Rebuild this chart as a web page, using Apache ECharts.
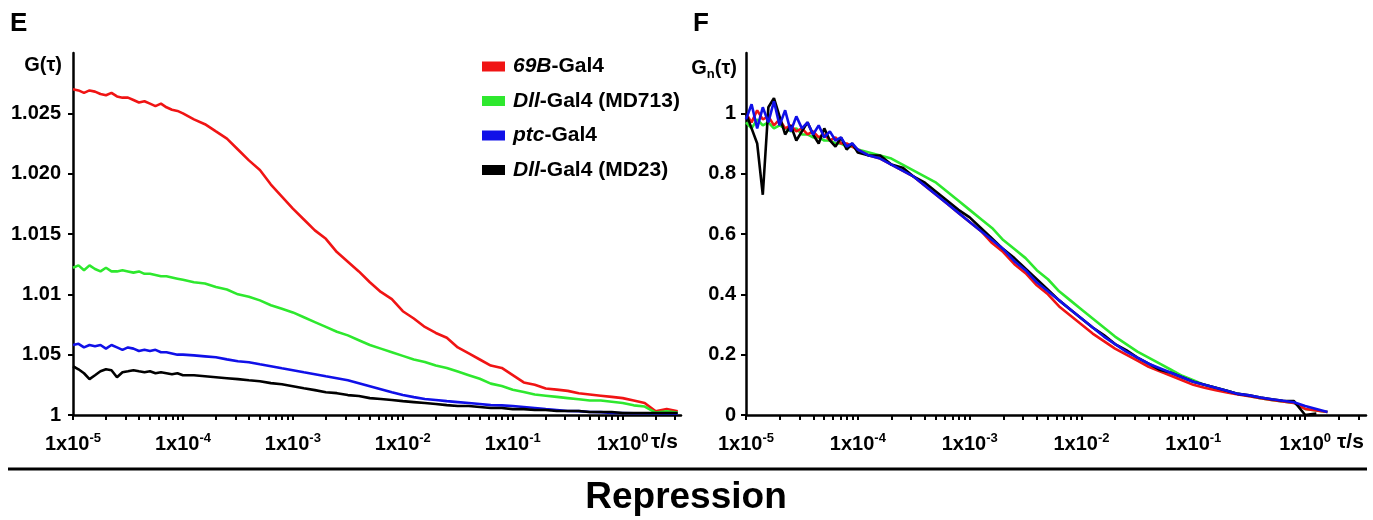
<!DOCTYPE html>
<html><head><meta charset="utf-8">
<script src="https://cdn.jsdelivr.net/npm/echarts@6/dist/echarts.min.js"></script>
<style>html,body{margin:0;padding:0;background:#fff}#c{width:1373px;height:520px}</style>
</head><body><div id="c"></div>
<script>
// lag time tau (s)
const TAU = [1e-5, 1.122e-5, 1.259e-5, 1.413e-5, 1.585e-5, 1.778e-5, 1.995e-5, 2.239e-5, 2.512e-5, 2.818e-5,
  3.162e-5, 3.548e-5, 3.981e-5, 4.467e-5, 5.012e-5, 5.623e-5, 6.310e-5, 7.079e-5, 7.943e-5, 8.913e-5, 1e-4,
  1.259e-4, 1.585e-4, 1.995e-4, 2.512e-4, 3.162e-4, 3.981e-4, 5.012e-4, 6.310e-4, 7.943e-4, 1e-3,
  1.259e-3, 1.585e-3, 1.995e-3, 2.512e-3, 3.162e-3, 3.981e-3, 5.012e-3, 6.310e-3, 7.943e-3, 1e-2,
  1.259e-2, 1.585e-2, 1.995e-2, 2.512e-2, 3.162e-2, 3.981e-2, 5.012e-2, 6.310e-2, 7.943e-2, 1e-1,
  1.259e-1, 1.585e-1, 1.995e-1, 2.512e-1, 3.162e-1, 3.981e-1, 5.012e-1, 6.310e-1, 7.943e-1, 1,
  1.259, 1.585, 1.995, 2.512, 3.162];

const SERIES_NAMES = ['69B-Gal4', 'Dll-Gal4 (MD713)', 'ptc-Gal4', 'Dll-Gal4 (MD23)'];
const LEGEND_RICH = ['{i|69B}{n|-Gal4}', '{i|Dll}{n|-Gal4 (MD713)}', '{i|ptc}{n|-Gal4}', '{i|Dll}{n|-Gal4 (MD23)}'];
const COLORS = ['#f01414', '#2ee82e', '#1010e8', '#000000'];

// Panel E: G(tau)
const E_RED = [1.0270, 1.0269, 1.0267, 1.0269, 1.0268, 1.0266, 1.0265, 1.0267, 1.0264, 1.0263, 1.0263, 1.0261, 1.0259, 1.0260, 1.0258, 1.0256, 1.0258, 1.0255, 1.0253, 1.0252, 1.0250,
  1.0245, 1.0241, 1.0235, 1.0229, 1.0220, 1.0211, 1.0203, 1.0191, 1.0181, 1.0171,
  1.0162, 1.0153, 1.0146, 1.0135, 1.0127, 1.0119, 1.0110, 1.0102, 1.0096, 1.0086,
  1.0080, 1.0073, 1.0068, 1.0064, 1.0056, 1.0051, 1.0046, 1.0041, 1.0039, 1.0033,
  1.0027, 1.0025, 1.0022, 1.0021, 1.0020, 1.0018, 1.0017, 1.0016, 1.0015, 1.0014,
  1.0012, 1.0010, 1.0003, 1.0005, 1.0003];
const E_GREEN = [1.0122, 1.0124, 1.0120, 1.0124, 1.0121, 1.0119, 1.0122, 1.0119, 1.0119, 1.0120, 1.0119, 1.0118, 1.0119, 1.0117, 1.0117, 1.0116, 1.0115, 1.0115, 1.0114, 1.0113, 1.0112,
  1.0110, 1.0109, 1.0106, 1.0104, 1.0100, 1.0098, 1.0095, 1.0091, 1.0088, 1.0085,
  1.0081, 1.0077, 1.0073, 1.0069, 1.0066, 1.0062, 1.0058, 1.0055, 1.0052, 1.0049,
  1.0046, 1.0044, 1.0041, 1.0039, 1.0036, 1.0033, 1.0030, 1.0026, 1.0024, 1.0021,
  1.0019, 1.0017, 1.0016, 1.0015, 1.0014, 1.0013, 1.0012, 1.0012, 1.0011, 1.0010,
  1.0008, 1.0007, 1.0002, 1.0003, 1.0002];
const E_BLUE = [1.0058, 1.0059, 1.0056, 1.0058, 1.0057, 1.0058, 1.0055, 1.0058, 1.0056, 1.0054, 1.0056, 1.0055, 1.0053, 1.0054, 1.0053, 1.0054, 1.0052, 1.0052, 1.0051, 1.0050, 1.0050,
  1.00494, 1.00486, 1.00478, 1.00461, 1.00445, 1.00437, 1.00420, 1.00404, 1.00387, 1.00371,
  1.00354, 1.00338, 1.00321, 1.00305, 1.00288, 1.00264, 1.00239, 1.00214, 1.00189, 1.00165,
  1.00148, 1.00132, 1.00124, 1.00115, 1.00107, 1.00099, 1.00091, 1.00082, 1.00080, 1.00074,
  1.00066, 1.00058, 1.00049, 1.00041, 1.00033, 1.00032, 1.00025, 1.00024, 1.00016, 1.00016,
  1.00015, 1.00014, 1.00013, 1.00012, 1.00010];
const E_BLACK = [1.00404, 1.00379, 1.00346, 1.00297, 1.00329, 1.00362, 1.00379, 1.00371, 1.00313, 1.00354, 1.00362, 1.00371, 1.00362, 1.00354, 1.00362, 1.00346, 1.00354, 1.00346, 1.00338, 1.00346, 1.00329,
  1.00329, 1.00321, 1.00313, 1.00305, 1.00297, 1.00288, 1.00280, 1.00264, 1.00255, 1.00239,
  1.00222, 1.00206, 1.00189, 1.00181, 1.00165, 1.00157, 1.00140, 1.00132, 1.00124, 1.00115,
  1.00107, 1.00099, 1.00091, 1.00082, 1.00074, 1.00074, 1.00066, 1.00058, 1.00058, 1.00049,
  1.00049, 1.00041, 1.00041, 1.00033, 1.00033, 1.00033, 1.00025, 1.00025, 1.00025, 1.00016,
  1.00016, 1.00016, 1.00016, 1.00016, 1.00016];

// Panel F: normalised Gn(tau)
const F_RED = [1.00, 0.97, 1.01, 0.98, 0.99, 0.96, 0.98, 0.95, 0.96, 0.94, 0.95, 0.93, 0.94, 0.92, 0.93, 0.91, 0.92, 0.90, 0.90, 0.89, 0.88,
  0.86, 0.85, 0.83, 0.81, 0.79, 0.76, 0.73, 0.70, 0.67, 0.64,
  0.61, 0.57, 0.54, 0.50, 0.47, 0.43, 0.40, 0.36, 0.33, 0.30,
  0.27, 0.245, 0.22, 0.20, 0.18, 0.16, 0.145, 0.13, 0.115, 0.10,
  0.09, 0.082, 0.075, 0.068, 0.062, 0.056, 0.05, 0.045, 0.04, 0.02,
  0.015, 0.01, null, null, null];
const F_GREEN = [0.97, 0.95, 0.98, 0.96, 0.97, 0.95, 0.96, 0.95, 0.94, 0.95, 0.93, 0.93, 0.92, 0.92, 0.91, 0.91, 0.90, 0.90, 0.89, 0.89, 0.88,
  0.87, 0.86, 0.85, 0.83, 0.81, 0.79, 0.77, 0.74, 0.71, 0.68,
  0.65, 0.62, 0.58, 0.55, 0.52, 0.48, 0.45, 0.41, 0.38, 0.35,
  0.32, 0.29, 0.26, 0.235, 0.21, 0.19, 0.17, 0.15, 0.13, 0.115,
  0.10, 0.09, 0.08, 0.07, 0.063, 0.056, 0.05, 0.045, 0.04, 0.02,
  0.015, 0.01, null, null, null];
const F_BLUE = [0.98, 1.03, 0.95, 1.02, 0.97, 1.04, 0.96, 1.01, 0.94, 0.99, 0.95, 0.97, 0.93, 0.96, 0.92, 0.94, 0.91, 0.92, 0.89, 0.90, 0.88,
  0.86, 0.85, 0.83, 0.81, 0.79, 0.76, 0.73, 0.70, 0.67, 0.64,
  0.61, 0.58, 0.55, 0.51, 0.48, 0.44, 0.41, 0.38, 0.35, 0.32,
  0.29, 0.26, 0.235, 0.21, 0.19, 0.17, 0.155, 0.14, 0.125, 0.11,
  0.10, 0.09, 0.08, 0.07, 0.065, 0.058, 0.052, 0.047, 0.042, 0.03,
  0.02, 0.01, null, null, null];
const F_BLACK = [1.00, 0.95, 0.90, 0.73, 1.02, 1.05, 0.99, 0.93, 0.96, 0.91, 0.94, 0.97, 0.93, 0.90, 0.95, 0.91, 0.89, 0.92, 0.88, 0.90, 0.87,
  0.86, 0.86, 0.83, 0.82, 0.79, 0.77, 0.74, 0.71, 0.68, 0.655,
  0.62, 0.585, 0.55, 0.52, 0.485, 0.45, 0.415, 0.38, 0.35, 0.32,
  0.29, 0.265, 0.235, 0.215, 0.19, 0.17, 0.15, 0.14, 0.125, 0.11,
  0.10, 0.09, 0.08, 0.07, 0.065, 0.058, 0.052, 0.047, 0.046, 0.0,
  0.005, null, null, null, null];

// Axis ticks & labels
const X_LABEL_VALUES = [1e-5, 1e-4, 1e-3, 1e-2, 1e-1, 1];
const E_Y_TICKS = [1, 1.005, 1.01, 1.015, 1.02, 1.025];
const E_Y_LABELS = ['1', '1.05', '1.01', '1.015', '1.020', '1.025'];
const F_Y_TICKS = [0, 0.2, 0.4, 0.6, 0.8, 1];
const F_Y_LABELS = ['0', '0.2', '0.4', '0.6', '0.8', '1'];
const E_X_MAX = 3.39, F_X_MAX = 3.5;

const FONT = 'Liberation Sans, Arial, Helvetica, sans-serif';

function logTickValues(maxV) {
  const out = [];
  for (let e = -5; e <= 0; e++) {
    for (let m = 1; m <= 9; m++) {
      const v = m * Math.pow(10, e);
      if (v <= maxV) out.push(v);
    }
  }
  return out;
}

function xAxis(gridIndex, maxV) {
  return {
    type: 'log', logBase: 10, gridIndex, min: 1e-5, max: maxV,
    axisLine: { show: true, onZero: false, lineStyle: { color: '#000', width: 2.5 } },
    axisTick: { show: true, length: 5, customValues: logTickValues(maxV), lineStyle: { color: '#000', width: 2 } },
    minorTick: { show: false },
    splitLine: { show: false },
    axisLabel: {
      customValues: X_LABEL_VALUES, margin: 17, color: '#000',
      formatter: v => '{b|1x10}{s|' + Math.round(Math.log10(v)) + '}',
      rich: {
        b: { fontFamily: FONT, fontWeight: 'bold', fontSize: 20, color: '#000', lineHeight: 24 },
        s: { fontFamily: FONT, fontWeight: 'bold', fontSize: 13, color: '#000', verticalAlign: 'top', lineHeight: 24 }
      }
    }
  };
}

function yAxis(gridIndex, min, max, ticks, labels, margin) {
  return {
    type: 'value', gridIndex, min, max,
    axisLine: { show: true, onZero: false, lineStyle: { color: '#000', width: 2.5 } },
    axisTick: { show: true, length: 5, customValues: ticks, lineStyle: { color: '#000', width: 2 } },
    splitLine: { show: false },
    axisLabel: {
      customValues: ticks, margin, color: '#000', fontFamily: FONT, fontWeight: 'bold', fontSize: 20,
      formatter: v => {
        let best = 0;
        ticks.forEach((t, i) => { if (Math.abs(t - v) < Math.abs(ticks[best] - v)) best = i; });
        return labels[best];
      }
    }
  };
}

function makeSeries(arr, idx, panel) {
  return {
    name: SERIES_NAMES[idx], type: 'line', xAxisIndex: panel, yAxisIndex: panel,
    data: TAU.map((t, i) => [t, arr[i]]),
    showSymbol: false, symbol: 'none', connectNulls: false,
    lineStyle: { color: COLORS[idx], width: 2.6 }, itemStyle: { color: COLORS[idx] },
    emphasis: { disabled: true }, silent: true
  };
}

const chart = echarts.init(document.getElementById('c'), null, { renderer: 'canvas' });
chart.setOption({
  animation: false,
  backgroundColor: '#fff',
  textStyle: { fontFamily: FONT },
  grid: [
    { left: 73, top: 53, width: 608, height: 362, containLabel: false },
    { left: 746, top: 53, width: 620, height: 362, containLabel: false }
  ],
  xAxis: [xAxis(0, E_X_MAX), xAxis(1, F_X_MAX)],
  yAxis: [
    yAxis(0, 1, 1.03, E_Y_TICKS, E_Y_LABELS, 12),
    yAxis(1, 0, 1.2, F_Y_TICKS, F_Y_LABELS, 10)
  ],
  legend: {
    left: 477, top: 51, orient: 'vertical', icon: 'rect', itemWidth: 23, itemHeight: 10, itemGap: 13.5,
    data: SERIES_NAMES,
    selectedMode: false,
    formatter: name => LEGEND_RICH[SERIES_NAMES.indexOf(name)],
    textStyle: {
      fontFamily: FONT, fontSize: 21, fontWeight: 'bold', color: '#000', padding: [0, 0, 0, 3],
      rich: {
        i: { fontFamily: FONT, fontSize: 21, fontWeight: 'bold', fontStyle: 'italic', color: '#000', lineHeight: 24 },
        n: { fontFamily: FONT, fontSize: 21, fontWeight: 'bold', color: '#000', lineHeight: 24 }
      }
    }
  },
  series: [
    makeSeries(E_RED, 0, 0), makeSeries(E_GREEN, 1, 0), makeSeries(E_BLUE, 2, 0), makeSeries(E_BLACK, 3, 0),
    makeSeries(F_GREEN, 1, 1), makeSeries(F_RED, 0, 1), makeSeries(F_BLACK, 3, 1), makeSeries(F_BLUE, 2, 1)
  ],
  graphic: [
    { type: 'text', x: 10, y: 24, style: { text: 'E', font: 'bold 26px ' + FONT, fill: '#000', textVerticalAlign: 'middle' } },
    { type: 'text', x: 693, y: 24, style: { text: 'F', font: 'bold 26px ' + FONT, fill: '#000', textVerticalAlign: 'middle' } },
    { type: 'text', x: 62, y: 65, style: { text: 'G(τ)', font: 'bold 20px ' + FONT, fill: '#000', textAlign: 'right', textVerticalAlign: 'middle' } },
    { type: 'text', x: 737, y: 68, style: {
        text: '{g|G}{n|n}{g|(τ)}', textAlign: 'right', textVerticalAlign: 'middle',
        rich: {
          g: { fontFamily: FONT, fontWeight: 'bold', fontSize: 20, fill: '#000', lineHeight: 26 },
          n: { fontFamily: FONT, fontWeight: 'bold', fontSize: 13, fill: '#000', verticalAlign: 'bottom', lineHeight: 26 }
        } } },
    { type: 'text', x: 651, y: 442, style: { text: 'τ/s', font: 'bold 21px ' + FONT, fill: '#000', textVerticalAlign: 'middle' } },
    { type: 'text', x: 1337, y: 442, style: { text: 'τ/s', font: 'bold 21px ' + FONT, fill: '#000', textVerticalAlign: 'middle' } },
    { type: 'line', shape: { x1: 8, y1: 469, x2: 1367, y2: 469 }, style: { stroke: '#000', lineWidth: 3 } },
    { type: 'text', x: 686, y: 498, style: { text: 'Repression', font: 'bold 37px ' + FONT, fill: '#000', textAlign: 'center', textVerticalAlign: 'middle' } }
  ]
});
</script>
</body></html>
